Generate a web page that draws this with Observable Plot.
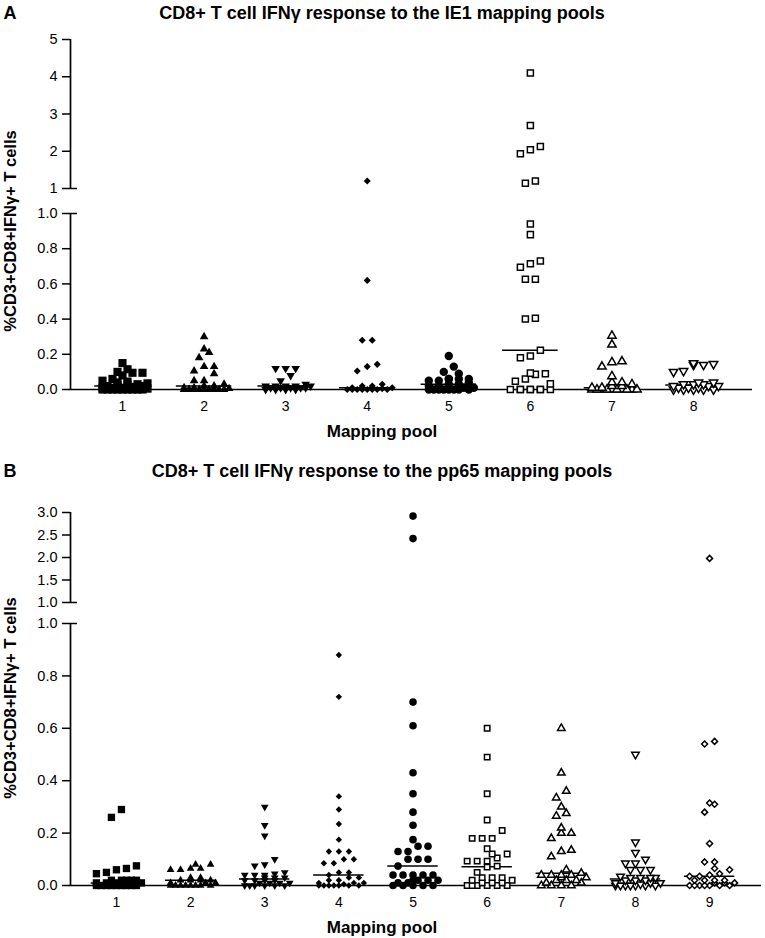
<!DOCTYPE html>
<html><head><meta charset="utf-8">
<script src="https://cdn.jsdelivr.net/npm/d3@7"></script>
<script src="https://cdn.jsdelivr.net/npm/@observablehq/plot@0.6"></script>
<style>
body{margin:0;background:#fff;font-family:"Liberation Sans",Arial,Helvetica,sans-serif;color:#000;}
#page{position:relative;width:765px;height:938px;overflow:hidden;background:#fff;}
.t{position:absolute;white-space:nowrap;transform:translate(-50%,-50%);font-weight:bold;}
.letter{font-size:18px;}
.title{font-size:18px;}
.xlab{font-size:17px;}
.ylab{font-size:16.5px;transform:translate(-50%,-50%) rotate(-90deg);}
.seg{position:absolute;left:0;}
</style></head><body><div id="page"></div>
<script>
const FONT = '"Liberation Sans", Arial, Helvetica, sans-serif';

// ---------- Panel A: IE1 mapping pools ----------
const ie1Pools = [1, 2, 3, 4, 5, 6, 7, 8];
const ie1Pool1 = [0.15, 0.115, 0.10, 0.095, 0.095, 0.08, 0.06, 0.05, 0.045, 0.04, 0.035, 0.03, 0.03, 0.025, 0.02, 0.02, 0.015, 0.01, 0.01, 0.01, 0.005, 0, 0, 0, 0, 0, 0, 0, 0, 0];
const ie1Pool2 = [0.30, 0.23, 0.21, 0.18, 0.13, 0.13, 0.105, 0.09, 0.05, 0.05, 0.03, 0.02, 0.02, 0.01, 0.01, 0.005, 0, 0, 0, 0, 0, 0, 0, 0, 0];
const ie1Pool3 = [0.12, 0.12, 0.12, 0.08, 0.05, 0.03, 0.02, 0.02, 0.02, 0.02, 0.02, 0.01, 0.01, 0.01, 0.01, 0.01, 0, 0, 0, 0];
const ie1Pool4 = [1.20, 0.62, 0.28, 0.28, 0.143, 0.13, 0.105, 0.03, 0.02, 0.02, 0.01, 0.01, 0.005, 0, 0, 0, 0, 0, 0, 0, 0];
const ie1Pool5 = [0.19, 0.13, 0.10, 0.09, 0.06, 0.06, 0.06, 0.06, 0.05, 0.05, 0.04, 0.03, 0.03, 0.02, 0.02, 0.01, 0.01, 0, 0, 0, 0, 0, 0, 0, 0];
const ie1Pool6 = [4.10, 2.69, 2.13, 2.04, 1.93, 1.20, 1.14, 0.94, 0.88, 0.73, 0.715, 0.695, 0.627, 0.627, 0.405, 0.40, 0.223, 0.19, 0.18, 0.093, 0.09, 0.086, 0.06, 0.047, 0.032, 0, 0, 0, 0, 0, 0, 0, 0];
const ie1Pool7 = [0.305, 0.255, 0.16, 0.155, 0.13, 0.075, 0.04, 0.04, 0.03, 0.02, 0.02, 0.01, 0.01, 0, 0, 0, 0, 0, 0, 0, 0, 0, 0];
const ie1Pool8 = [0.15, 0.145, 0.14, 0.14, 0.105, 0.10, 0.04, 0.04, 0.03, 0.03, 0.03, 0.02, 0.02, 0.02, 0.01, 0.01, 0.01, 0, 0, 0, 0, 0];
const ie1TopTicks = [1, 2, 3, 4, 5];
const ie1BottomTicks = [0, 0.2, 0.4, 0.6, 0.8, 1.0];
const ie1Title = "CD8+ T cell IFNγ response to the IE1 mapping pools";

// ---------- Panel B: pp65 mapping pools ----------
const pp65Pools = [1, 2, 3, 4, 5, 6, 7, 8, 9];
const pp65Pool1 = [0.29, 0.26, 0.075, 0.065, 0.06, 0.05, 0.045, 0.02, 0.02, 0.02, 0.02, 0.02, 0.01, 0.01, 0.01, 0.01, 0, 0, 0, 0, 0, 0, 0, 0, 0];
const pp65Pool2 = [0.08, 0.08, 0.065, 0.065, 0.06, 0.06, 0.03, 0.03, 0.02, 0.02, 0.02, 0.02, 0.01, 0.01, 0.01, 0, 0, 0, 0, 0, 0, 0, 0];
const pp65Pool3 = [0.30, 0.23, 0.19, 0.10, 0.08, 0.075, 0.05, 0.045, 0.04, 0.04, 0.04, 0.03, 0.03, 0.03, 0.02, 0.02, 0.02, 0.02, 0.01, 0.01, 0.01, 0.01, 0, 0, 0, 0, 0, 0];
const pp65Pool4 = [0.88, 0.72, 0.34, 0.29, 0.235, 0.175, 0.13, 0.13, 0.13, 0.10, 0.10, 0.085, 0.085, 0.05, 0.05, 0.04, 0.03, 0.03, 0.02, 0.02, 0.01, 0.01, 0.01, 0.005, 0, 0, 0, 0, 0, 0, 0];
const pp65Pool5 = [2.92, 2.42, 0.70, 0.61, 0.43, 0.35, 0.28, 0.23, 0.175, 0.15, 0.15, 0.13, 0.13, 0.10, 0.10, 0.10, 0.074, 0.04, 0.04, 0.04, 0.04, 0.04, 0.02, 0.02, 0.02, 0.02, 0.01, 0.01, 0, 0, 0, 0, 0];
const pp65Pool6 = [0.60, 0.49, 0.35, 0.25, 0.21, 0.18, 0.18, 0.18, 0.14, 0.12, 0.12, 0.105, 0.093, 0.093, 0.093, 0.074, 0.07, 0.05, 0.03, 0.03, 0.03, 0.02, 0.02, 0.01, 0.01, 0.01, 0, 0, 0, 0, 0, 0];
const pp65Pool7 = [0.60, 0.43, 0.36, 0.335, 0.30, 0.275, 0.265, 0.22, 0.20, 0.20, 0.18, 0.135, 0.13, 0.11, 0.06, 0.047, 0.04, 0.04, 0.04, 0.04, 0.03, 0.03, 0.02, 0.02, 0.02, 0.01, 0.01, 0, 0, 0, 0];
const pp65Pool8 = [0.50, 0.165, 0.125, 0.10, 0.085, 0.085, 0.06, 0.06, 0.06, 0.035, 0.03, 0.03, 0.03, 0.03, 0.02, 0.02, 0.02, 0.01, 0.01, 0.01, 0.005, 0, 0, 0, 0, 0, 0, 0];
const pp65Pool9 = [1.98, 0.55, 0.54, 0.315, 0.31, 0.28, 0.16, 0.09, 0.09, 0.065, 0.06, 0.045, 0.04, 0.035, 0.035, 0.02, 0.02, 0.02, 0.02, 0.01, 0.01, 0.01, 0, 0, 0, 0, 0, 0, 0];
const pp65TopTicks = [1.0, 1.5, 2.0, 2.5, 3.0];
const pp65BottomTicks = [0, 0.2, 0.4, 0.6, 0.8, 1.0];
const pp65Title = "CD8+ T cell IFNγ response to the pp65 mapping pools";

const yLabel = "%CD3+CD8+IFNγ+ T cells";
const xLabel = "Mapping pool";

// marker style per pool (GraphPad-like symbols)
function styles(k) {
  const solid = {fill: "black", stroke: "none"};
  const open = {fill: "white", stroke: "black", strokeWidth: 1.5};
  return [
    {symbol: "square", ...solid, r: 4.6 * k},
    {symbol: "triangle", ...solid, r: 3.2 * k},
    {symbol: "triangle", ...solid, r: 3.2 * k, rotate: 180},
    {symbol: "diamond2", ...solid, r: 3.2 * k},
    {symbol: "circle", ...solid, r: 4.2 * k},
    {symbol: "square", ...open, r: 3.4 * k},
    {symbol: "triangle", ...open, r: 3.1 * k},
    {symbol: "triangle", ...open, r: 3.1 * k, rotate: 180},
    {symbol: "diamond2", ...open, r: 3.0 * k}
  ];
}

// column-scatter layout: points of similar value share a row, spread horizontally
function columnScatter(values, pool, toPx, s, h, maxCols, pxu) {
  const sorted = values.slice().sort((a, b) => a - b);
  const rows = [];
  let cur = null;
  for (const v of sorted) {
    const py = toPx(v);
    if (!cur || py - cur.start >= h) { cur = {start: py, items: []}; rows.push(cur); }
    cur.items.push(v);
  }
  const out = [];
  for (const row of rows) {
    const n = row.items.length;
    for (let i = 0; i < n; i += maxCols) {
      const chunk = row.items.slice(i, i + maxCols);
      const sub = Math.floor(i / maxCols);
      const shift = (sub % 2) ? s / 2 : 0;
      const m = chunk.length;
      chunk.forEach((v, k) => out.push({pool, value: v, x: pool + ((k - (m - 1) / 2) * s + shift) / pxu}));
    }
  }
  return out;
}

const page = document.getElementById("page");
function addText(txt, cls, cx, cy) {
  const d = document.createElement("div");
  d.className = "t " + cls;
  d.textContent = txt;
  d.style.left = cx + "px";
  d.style.top = cy + "px";
  page.appendChild(d);
}

function buildPanel(cfg) {
  addText(cfg.letter, "letter", 10, cfg.letterCy);
  addText(cfg.title, "title", 382, cfg.titleCy);
  addText(yLabel, "ylab", 9.5, cfg.ylabCy);
  addText(xLabel, "xlab", 382, cfg.xlabCy);

  const W = 765, ML = 70, MR = cfg.marginRight;
  const pxu = (W - ML - MR) / (cfg.xDomain[1] - cfg.xDomain[0]);
  const top = cfg.top, bot = cfg.bottom;
  const botPx = (bot.height - bot.marginTop - bot.marginBottom) / (bot.domain[1] - bot.domain[0]);
  const topPx = (top.height - top.marginTop - top.marginBottom) / (top.domain[1] - top.domain[0]);
  const brk = bot.domain[1];
  const gap = (bot.svgTop + bot.marginTop) - (top.svgTop + top.height - top.marginBottom);
  const toPx = v => v <= brk ? v * botPx : brk * botPx + gap + (v - brk) * topPx;

  const points = cfg.pools.flatMap((p, i) => columnScatter(cfg.values[i], p, toPx, 10, 8, 5, pxu));
  const medians = cfg.pools.map((p, i) => ({pool: p, m: d3.median(cfg.values[i])}));
  const st = styles(cfg.k);
  const x0 = cfg.xDomain[0];

  [top, bot].forEach((seg, si) => {
    const isBottom = si === 1;
    const marks = [];
    marks.push(Plot.ruleX([x0], {strokeWidth: 1.7}));
    if (isBottom) marks.push(Plot.ruleY([seg.domain[0]], {strokeWidth: 1.7}));
    marks.push(Plot.axisY({ticks: seg.ticks, tickFormat: d3.format(seg.fmt), tickSize: 8, tickPadding: 5, strokeWidth: 1.5, fontSize: 14.5, label: null}));
    const breakVal = isBottom ? seg.domain[1] : seg.domain[0];
    marks.push(Plot.ruleY([breakVal], {x1: x0, x2: x0 + 7 / pxu, strokeWidth: 1.5}));
    if (isBottom) {
      marks.push(Plot.axisX({ticks: cfg.pools, tickSize: 0, tickPadding: 12, fontSize: 14, tickFormat: d => String(d), label: null}));
      marks.push(Plot.ruleY(medians, {y: "m", x1: d => d.pool - 0.34, x2: d => d.pool + 0.34, strokeWidth: 1.5}));
    }
    cfg.pools.forEach((p, i) => {
      const data = points.filter(d => d.pool === p && (isBottom ? d.value <= brk : d.value > brk));
      if (data.length) marks.push(Plot.dot(data, {x: "x", y: "value", ...st[i]}));
    });
    const svg = Plot.plot({
      width: W, height: seg.height,
      marginTop: seg.marginTop, marginBottom: seg.marginBottom, marginLeft: ML, marginRight: MR,
      x: {domain: cfg.xDomain, label: null, ...(isBottom ? {} : {axis: null})},
      y: {domain: seg.domain, label: null},
      style: {background: "transparent", overflow: "visible", fontFamily: FONT, fontSize: "14px", color: "black"},
      marks
    });
    const wrap = document.createElement("div");
    wrap.className = "seg";
    wrap.style.top = seg.svgTop + "px";
    wrap.appendChild(svg);
    page.appendChild(wrap);
  });
}

buildPanel({
  letter: "A", letterCy: 13, title: ie1Title, titleCy: 13, ylabCy: 231, xlabCy: 432,
  pools: ie1Pools, values: [ie1Pool1, ie1Pool2, ie1Pool3, ie1Pool4, ie1Pool5, ie1Pool6, ie1Pool7, ie1Pool8],
  xDomain: [0.3625, 8.723], marginRight: 13, k: 1,
  top: {svgTop: 30, height: 170, marginTop: 9, marginBottom: 12, domain: [1, 5], ticks: ie1TopTicks, fmt: "d"},
  bottom: {svgTop: 200, height: 234, marginTop: 13, marginBottom: 45, domain: [0, 1], ticks: ie1BottomTicks, fmt: ".1f"}
});

buildPanel({
  letter: "B", letterCy: 471, title: pp65Title, titleCy: 471, ylabCy: 698, xlabCy: 928,
  pools: pp65Pools, values: [pp65Pool1, pp65Pool2, pp65Pool3, pp65Pool4, pp65Pool5, pp65Pool6, pp65Pool7, pp65Pool8, pp65Pool9],
  xDomain: [0.3805, 9.70], marginRight: 4, k: 0.9,
  top: {svgTop: 500, height: 112, marginTop: 12, marginBottom: 10, domain: [1, 3], ticks: pp65TopTicks, fmt: ".1f"},
  bottom: {svgTop: 612, height: 326, marginTop: 11, marginBottom: 53, domain: [0, 1], ticks: pp65BottomTicks, fmt: ".1f"}
});
</script></body></html>
